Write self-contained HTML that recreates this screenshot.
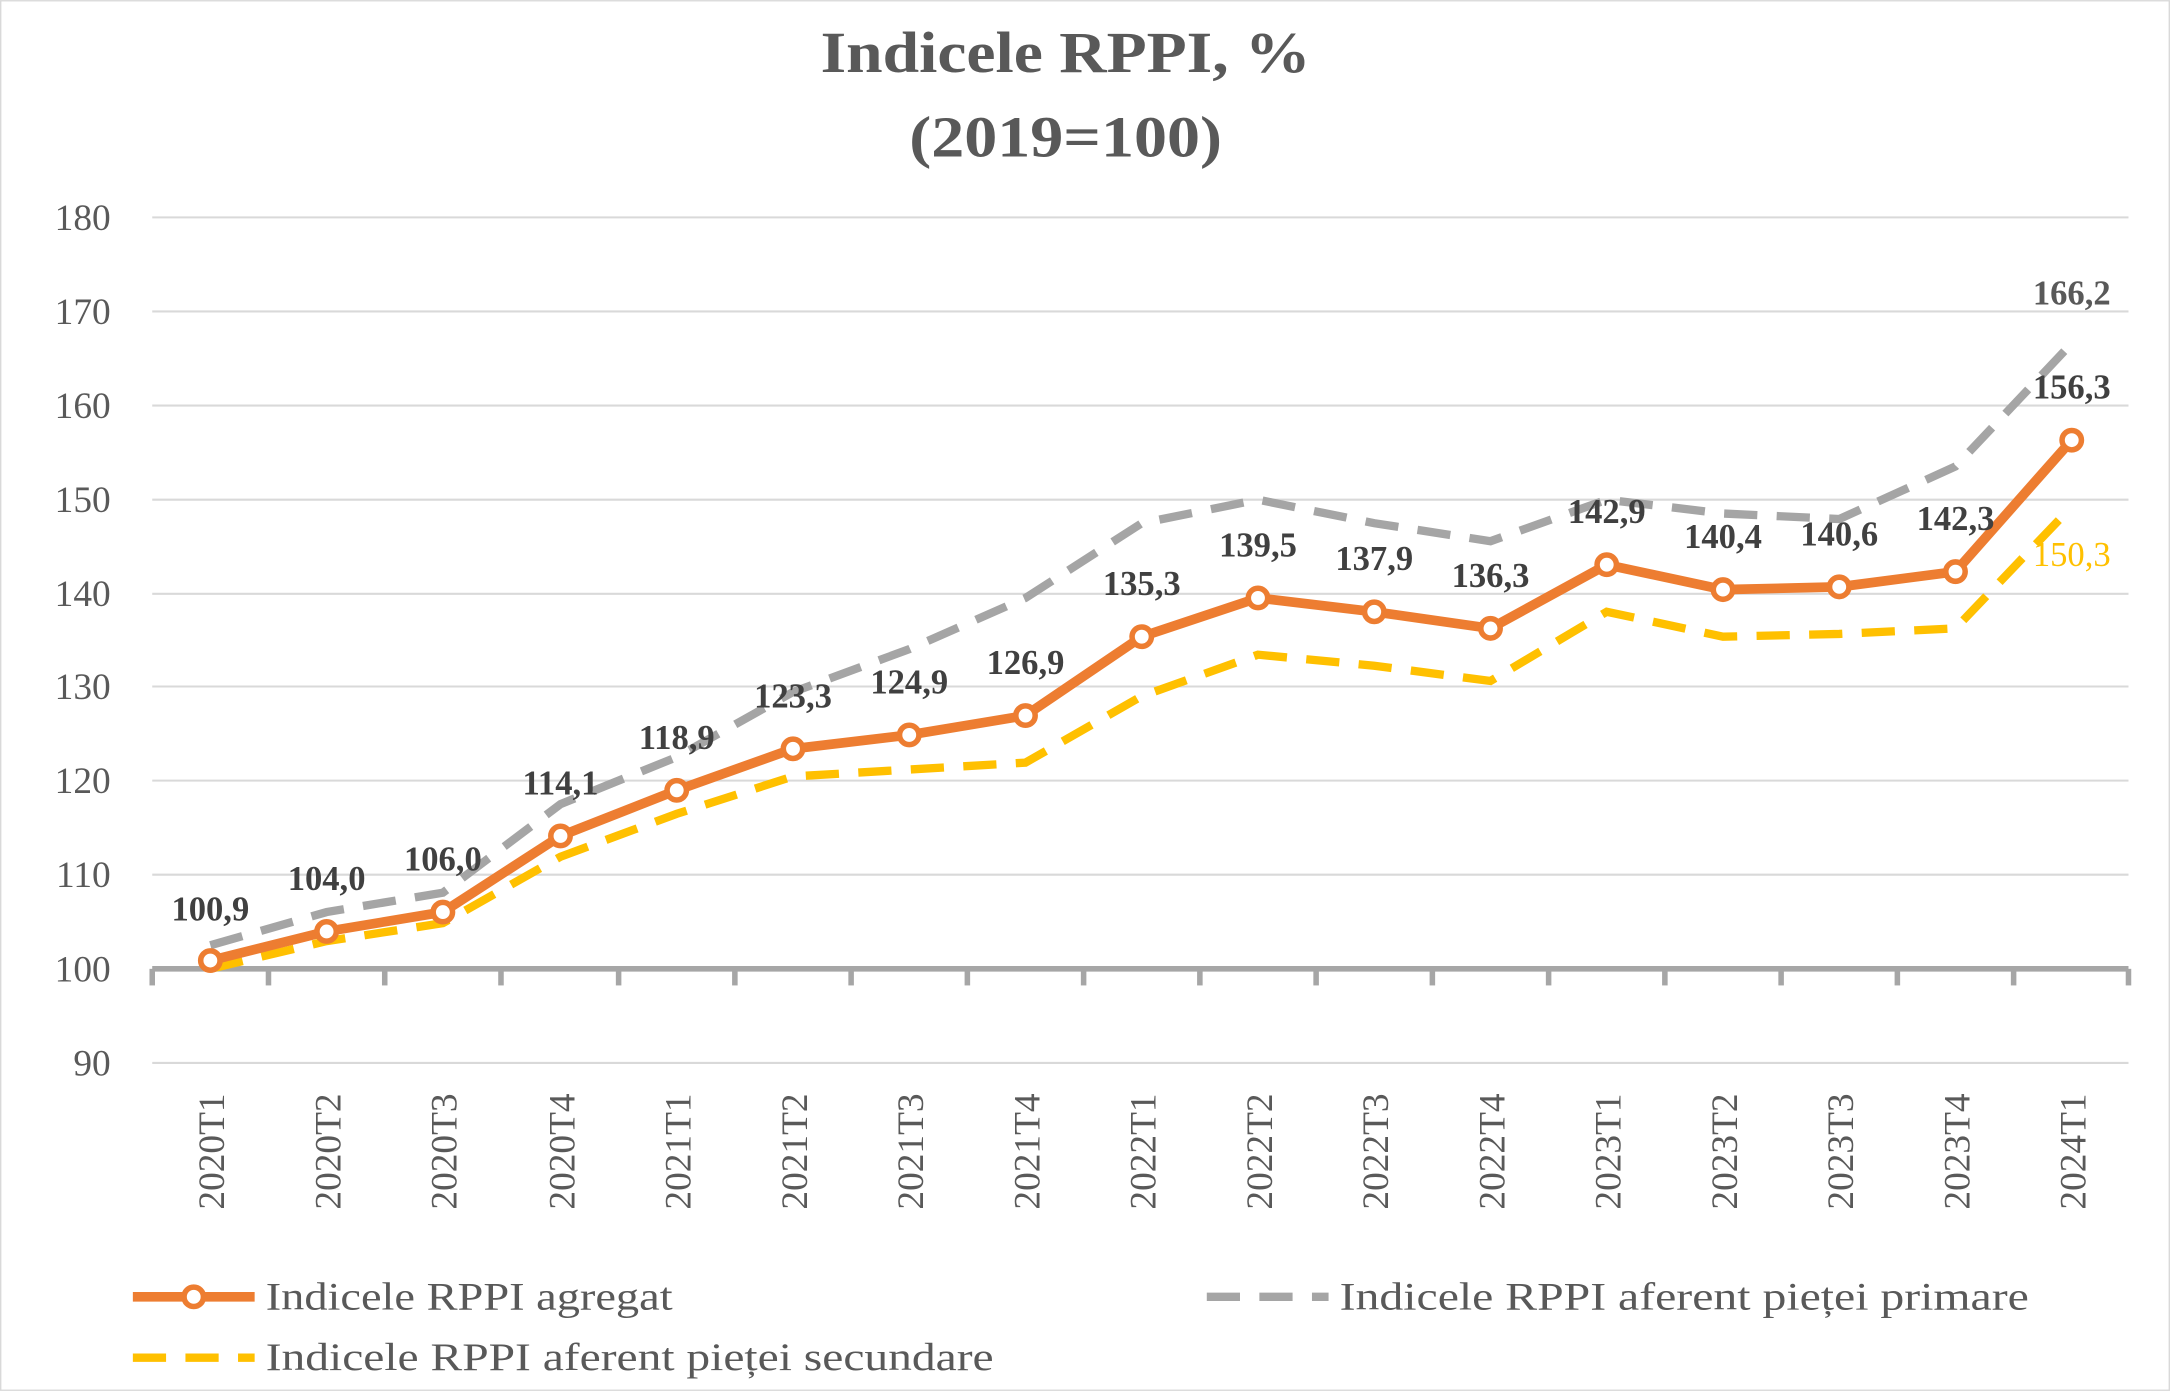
<!DOCTYPE html>
<html><head><meta charset="utf-8"><style>
html,body{margin:0;padding:0;background:#fff}
svg{display:block}
text{font-family:"Liberation Serif","DejaVu Serif",serif}
</style></head><body>
<svg width="2170" height="1391" viewBox="0 0 1568 1005" xmlns="http://www.w3.org/2000/svg">
<rect x="0.5" y="0.5" width="1567" height="1004" fill="#fff" stroke="#d9d9d9"/>
<text x="593" y="52" textLength="354" lengthAdjust="spacingAndGlyphs" font-size="42" font-weight="bold" fill="#595959">Indicele RPPI, %</text>
<text x="657" y="113" textLength="226" lengthAdjust="spacingAndGlyphs" font-size="42" font-weight="bold" fill="#595959">(2019=100)</text>
<g stroke="#d9d9d9" stroke-width="1.5">
<line x1="110" x2="1538" y1="157" y2="157"/><line x1="110" x2="1538" y1="225" y2="225"/>
<line x1="110" x2="1538" y1="293" y2="293"/><line x1="110" x2="1538" y1="361" y2="361"/>
<line x1="110" x2="1538" y1="429" y2="429"/><line x1="110" x2="1538" y1="496" y2="496"/>
<line x1="110" x2="1538" y1="564" y2="564"/><line x1="110" x2="1538" y1="632" y2="632"/>
<line x1="110" x2="1538" y1="768" y2="768"/>
</g>
<g font-size="27" fill="#595959" text-anchor="end">
<text x="80" y="166">180</text><text x="80" y="234">170</text><text x="80" y="302">160</text>
<text x="80" y="370">150</text><text x="80" y="438">140</text><text x="80" y="505">130</text>
<text x="80" y="573">120</text><text x="80" y="641">110</text><text x="80" y="709">100</text>
<text x="80" y="777">90</text>
</g>
<g stroke="#a6a6a6" stroke-width="4">
<line x1="110" x2="1538" y1="700" y2="700"/>
<line x1="110" x2="110" y1="700" y2="712"/><line x1="194" x2="194" y1="700" y2="712"/>
<line x1="278" x2="278" y1="700" y2="712"/><line x1="362" x2="362" y1="700" y2="712"/>
<line x1="447" x2="447" y1="700" y2="712"/><line x1="531" x2="531" y1="700" y2="712"/>
<line x1="615" x2="615" y1="700" y2="712"/><line x1="699" x2="699" y1="700" y2="712"/>
<line x1="783" x2="783" y1="700" y2="712"/><line x1="867" x2="867" y1="700" y2="712"/>
<line x1="951" x2="951" y1="700" y2="712"/><line x1="1035" x2="1035" y1="700" y2="712"/>
<line x1="1119" x2="1119" y1="700" y2="712"/><line x1="1203" x2="1203" y1="700" y2="712"/>
<line x1="1287" x2="1287" y1="700" y2="712"/><line x1="1371" x2="1371" y1="700" y2="712"/>
<line x1="1455" x2="1455" y1="700" y2="712"/><line x1="1538" x2="1538" y1="700" y2="712"/>
</g>
<g font-size="27" fill="#595959" text-anchor="end">
<text transform="translate(162,790) rotate(-90)">2020T1</text>
<text transform="translate(246,790) rotate(-90)">2020T2</text>
<text transform="translate(330,790) rotate(-90)">2020T3</text>
<text transform="translate(415,790) rotate(-90)">2020T4</text>
<text transform="translate(499,790) rotate(-90)">2021T1</text>
<text transform="translate(583,790) rotate(-90)">2021T2</text>
<text transform="translate(667,790) rotate(-90)">2021T3</text>
<text transform="translate(751,790) rotate(-90)">2021T4</text>
<text transform="translate(835,790) rotate(-90)">2022T1</text>
<text transform="translate(919,790) rotate(-90)">2022T2</text>
<text transform="translate(1003,790) rotate(-90)">2022T3</text>
<text transform="translate(1087,790) rotate(-90)">2022T4</text>
<text transform="translate(1171,790) rotate(-90)">2023T1</text>
<text transform="translate(1255,790) rotate(-90)">2023T2</text>
<text transform="translate(1339,790) rotate(-90)">2023T3</text>
<text transform="translate(1423,790) rotate(-90)">2023T4</text>
<text transform="translate(1507,790) rotate(-90)">2024T1</text>
</g>
<polyline fill="none" stroke="#a5a5a5" stroke-width="6" stroke-dasharray="24,14" points="152,683 236,659 320,645 405,581 489,547 573,500 657,469 741,432 825,378 909,361 993,378 1077,391 1161,361 1245,371 1329,375 1413,337 1497,248"/>
<polyline fill="none" stroke="#ffc000" stroke-width="6" stroke-dasharray="24,14" points="152,700 236,680 320,667 405,619 489,588 573,561 657,556 741,551 825,503 909,473 993,481 1077,492 1161,442 1245,460 1329,458 1413,454 1497,366"/>
<polyline fill="none" stroke="#ed7d31" stroke-width="7" points="152,694 236,673 320,659 405,604 489,571 573,541 657,531 741,517 825,460 909,432 993,442 1077,454 1161,408 1245,426 1329,424 1413,413 1497,318"/>
<g fill="#fff" stroke="#ed7d31" stroke-width="4">
<circle cx="152" cy="694" r="7"/><circle cx="236" cy="673" r="7"/><circle cx="320" cy="659" r="7"/>
<circle cx="405" cy="604" r="7"/><circle cx="489" cy="571" r="7"/><circle cx="573" cy="541" r="7"/>
<circle cx="657" cy="531" r="7"/><circle cx="741" cy="517" r="7"/><circle cx="825" cy="460" r="7"/>
<circle cx="909" cy="432" r="7"/><circle cx="993" cy="442" r="7"/><circle cx="1077" cy="454" r="7"/>
<circle cx="1161" cy="408" r="7"/><circle cx="1245" cy="426" r="7"/><circle cx="1329" cy="424" r="7"/>
<circle cx="1413" cy="413" r="7"/><circle cx="1497" cy="318" r="7"/>
</g>
<g font-size="25" font-weight="bold" fill="#404040" text-anchor="middle">
<text x="152" y="665">100,9</text><text x="236" y="643">104,0</text><text x="320" y="629">106,0</text>
<text x="405" y="574">114,1</text><text x="489" y="541">118,9</text><text x="573" y="511">123,3</text>
<text x="657" y="501">124,9</text><text x="741" y="487">126,9</text><text x="825" y="430">135,3</text>
<text x="909" y="402">139,5</text><text x="993" y="412">137,9</text><text x="1077" y="424">136,3</text>
<text x="1161" y="378">142,9</text><text x="1245" y="396">140,4</text><text x="1329" y="394">140,6</text>
<text x="1413" y="383">142,3</text><text x="1497" y="288">156,3</text>
<text x="1497" y="220" fill="#595959">166,2</text>
</g>
<text x="1497" y="409" font-size="25" fill="#ffc000" text-anchor="middle">150,3</text>
<line x1="96" x2="184" y1="937" y2="937" stroke="#ed7d31" stroke-width="7"/>
<circle cx="140" cy="937" r="7" fill="#fff" stroke="#ed7d31" stroke-width="4"/>
<text x="192" y="946" font-size="28" fill="#595959" textLength="294" lengthAdjust="spacingAndGlyphs">Indicele RPPI agregat</text>
<line x1="96" x2="184" y1="981" y2="981" stroke="#ffc000" stroke-width="6" stroke-dasharray="24,14"/>
<text x="192" y="990" font-size="28" fill="#595959" textLength="526" lengthAdjust="spacingAndGlyphs">Indicele RPPI aferent pieței secundare</text>
<line x1="872" x2="960" y1="937" y2="937" stroke="#a5a5a5" stroke-width="6" stroke-dasharray="24,14"/>
<text x="968" y="946" font-size="28" fill="#595959" textLength="498" lengthAdjust="spacingAndGlyphs">Indicele RPPI aferent pieței primare</text>
</svg>
</body></html>
